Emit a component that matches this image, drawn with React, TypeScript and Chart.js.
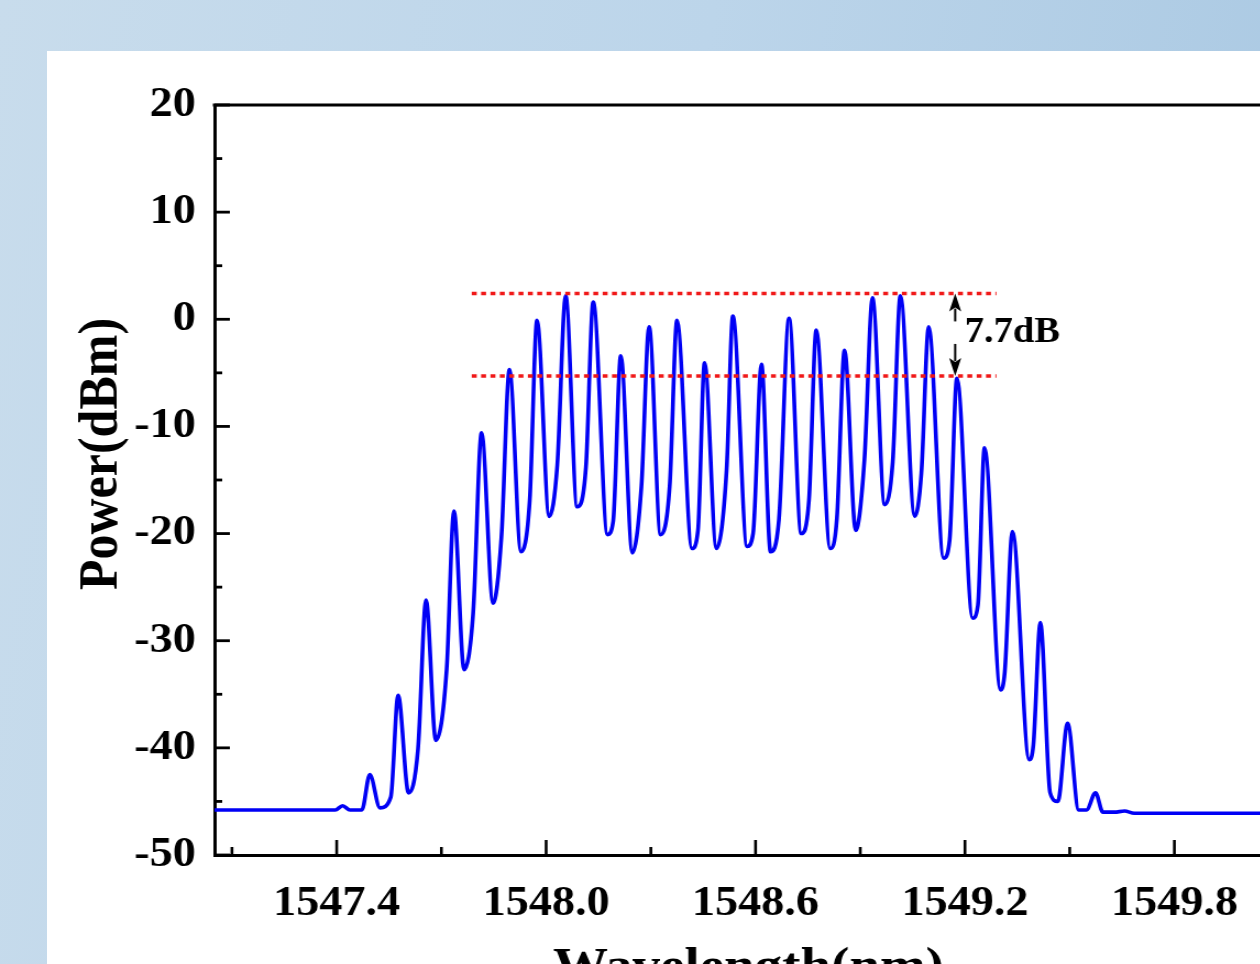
import React, { useEffect, useRef } from "react";
import { Chart, registerables } from "chart.js";

Chart.register(...registerables);

// ---- data ----
const wavelength = [
  1547.05, 1547.29, 1547.396, 1547.417, 1547.438, 1547.472, 1547.495, 1547.524, 1547.555, 1547.576,
  1547.606, 1547.633, 1547.656, 1547.684, 1547.715, 1547.736, 1547.765, 1547.791, 1547.815, 1547.848,
  1547.872, 1547.895, 1547.928, 1547.953, 1547.974, 1548.009, 1548.032, 1548.056, 1548.089, 1548.114,
  1548.135, 1548.176, 1548.192, 1548.214, 1548.247, 1548.273, 1548.295, 1548.328, 1548.354, 1548.375,
  1548.418, 1548.435, 1548.454, 1548.488, 1548.517, 1548.535, 1548.576, 1548.593, 1548.617, 1548.643,
  1548.667, 1548.696, 1548.731, 1548.753, 1548.774, 1548.814, 1548.833, 1548.855, 1548.887, 1548.912,
  1548.935, 1548.97, 1548.993, 1549.015, 1549.056, 1549.075, 1549.096, 1549.139, 1549.156, 1549.177,
  1549.222, 1549.237, 1549.256, 1549.302, 1549.314, 1549.336, 1549.384, 1549.396, 1549.416, 1549.444,
  1549.466, 1549.494, 1549.526, 1549.548, 1549.574, 1549.595, 1549.628, 1549.657, 1549.685, 1550.11,
];
const power = [
  -45.8, -45.8, -45.8, -45.4, -45.8, -45.8, -42.5, -45.6, -44.6, -35.1,
  -44.2, -40.1, -26.2, -39.3, -32.7, -17.9, -32.7, -27.4, -10.6, -26.5,
  -20.3, -4.7, -21.7, -16.9, -0.1, -18.4, -13.6, 2.2, -17.5, -13.8,
  1.6, -20.1, -18.9, -3.4, -21.8, -15.6, -0.7, -20.1, -15.6, -0.1,
  -21.4, -19.7, -4.05, -21.4, -14.1, 0.3, -21.2, -20.0, -4.2, -21.7,
  -18.7, 0.1, -20.0, -16.9, -1.0, -21.4, -18.6, -2.9, -19.7, -13.1,
  2.0, -17.3, -13.3, 2.2, -18.4, -14.4, -0.7, -22.3, -20.6, -5.5,
  -27.9, -26.7, -12.0, -34.6, -32.9, -19.8, -41.1, -39.7, -28.3, -44.2,
  -45.0, -37.7, -45.8, -45.8, -44.2, -46.0, -46.0, -45.9, -46.1, -46.1,
];

const xRange = [1547.05, 1550.11];
const yRange = [-50, 20];
const xMajorTicks = [1547.4, 1548.0, 1548.6, 1549.2, 1549.8];
const xMinorTicks = [1547.1, 1547.7, 1548.3, 1548.9, 1549.5];
const yMajorTicks = [-50, -40, -30, -20, -10, 0, 10, 20];
const yMinorTicks = [-45, -35, -25, -15, -5, 5, 15];

const flatnessLevels = [2.4, -5.3];
const flatnessSpan = [1547.787, 1549.29];
const arrowWavelength = 1549.172;
const upArrow = [-0.2, 2.4];
const downArrow = [-2.3, -5.3];
const flatnessLabel = "7.7dB";
const flatnessLabelPos = [1549.199, -1.28];

const xTitle = "Wavelength(nm)";
const yTitle = "Power(dBm)";

const FAMILY = "'Liberation Serif', 'Times New Roman', serif";
const STRETCH = 1.1; // the reference figure is slightly widened horizontally

function drawArrow(ctx: CanvasRenderingContext2D, x: number, yTail: number, yTip: number) {
  const dir = Math.sign(yTip - yTail);
  const headLen = 18;
  const headHalf = 5.5;
  ctx.beginPath();
  ctx.moveTo(x, yTail);
  ctx.lineTo(x, yTip - dir * (headLen - 3));
  ctx.lineWidth = 2;
  ctx.stroke();
  ctx.beginPath();
  ctx.moveTo(x, yTip);
  ctx.lineTo(x - headHalf, yTip - dir * headLen);
  ctx.lineTo(x, yTip - dir * (headLen - 4));
  ctx.lineTo(x + headHalf, yTip - dir * headLen);
  ctx.closePath();
  ctx.fill();
}

const decorPlugin = {
  id: "decor",
  afterDraw(chart: any) {
    const { ctx, chartArea } = chart;
    const xs = chart.scales.x;
    const ys = chart.scales.y;
    ctx.save();
    ctx.strokeStyle = "#000";
    ctx.fillStyle = "#000";
    ctx.lineCap = "butt";
    ctx.lineWidth = 3;
    // top frame
    ctx.beginPath();
    ctx.moveTo(chartArea.left - 1.5, chartArea.top);
    ctx.lineTo(chartArea.right + 1.5, chartArea.top);
    ctx.stroke();
    // right frame
    ctx.beginPath();
    ctx.moveTo(chartArea.right, chartArea.top);
    ctx.lineTo(chartArea.right, chartArea.bottom);
    ctx.stroke();
    // inward ticks
    const yTick = (v: number, len: number) => {
      const py = ys.getPixelForValue(v);
      ctx.beginPath();
      ctx.moveTo(chartArea.left, py);
      ctx.lineTo(chartArea.left + len, py);
      ctx.stroke();
    };
    const xTick = (v: number, len: number) => {
      const px = xs.getPixelForValue(v);
      ctx.beginPath();
      ctx.moveTo(px, chartArea.bottom);
      ctx.lineTo(px, chartArea.bottom - len);
      ctx.stroke();
    };
    ctx.lineWidth = 2.8;
    yMajorTicks.forEach((v) => yTick(v, 14));
    yMinorTicks.forEach((v) => yTick(v, 7));
    ctx.lineWidth = 2.6;
    xMajorTicks.forEach((v) => xTick(v, 15));
    xMinorTicks.forEach((v) => xTick(v, 8));

    // arrows
    const ax = xs.getPixelForValue(arrowWavelength);
    drawArrow(ctx, ax, ys.getPixelForValue(upArrow[0]), ys.getPixelForValue(upArrow[1]));
    drawArrow(ctx, ax, ys.getPixelForValue(downArrow[0]), ys.getPixelForValue(downArrow[1]));

    // label
    ctx.font = `bold 35px ${FAMILY}`;
    ctx.textAlign = "left";
    ctx.textBaseline = "middle";
    ctx.fillText(
      flatnessLabel,
      xs.getPixelForValue(flatnessLabelPos[0]),
      ys.getPixelForValue(flatnessLabelPos[1])
    );

    // y title
    ctx.save();
    ctx.translate(chartArea.left - 102, (chartArea.top + chartArea.bottom) / 2 - 26);
    ctx.rotate(-Math.PI / 2);
    ctx.font = `bold 50px ${FAMILY}`;
    ctx.textAlign = "center";
    ctx.textBaseline = "middle";
    ctx.fillText(yTitle, 0, 0);
    ctx.restore();

    ctx.restore();
  },
};

export default function App() {
  const ref = useRef<HTMLCanvasElement>(null);

  useEffect(() => {
    const canvas = ref.current;
    if (!canvas) return;
    const spectrum = wavelength.map((w, i) => ({ x: w, y: power[i] }));
    const levelSets = flatnessLevels.map((lv) => ({
      data: flatnessSpan.map((w) => ({ x: w, y: lv })),
      borderColor: "#f01818",
      borderWidth: 3.5,
      borderDash: [4.5, 4],
      pointRadius: 0,
      tension: 0,
      fill: false,
    }));
    const chart = new Chart(canvas, {
      type: "line",
      data: {
        datasets: [
          ...levelSets,
          {
            data: spectrum,
            borderColor: "#0000f5",
            borderWidth: 3.6,
            pointRadius: 0,
            cubicInterpolationMode: "monotone",
            fill: false,
          },
        ],
      } as any,
      options: {
        animation: false,
        responsive: false,
        devicePixelRatio: 1,
        layout: { padding: { left: 0, top: 105, right: 74, bottom: 0 } },
        plugins: {
          legend: { display: false },
          tooltip: { enabled: false },
          title: { display: false },
        },
        scales: {
          x: {
            type: "linear",
            min: xRange[0],
            max: xRange[1],
            afterFit: (s: any) => {
              s.height = 145;
            },
            afterBuildTicks: (s: any) => {
              s.ticks = xMajorTicks.map((v) => ({ value: v }));
            },
            grid: { display: false, drawTicks: false },
            border: { display: true, color: "#000", width: 3 },
            ticks: {
              padding: 24,
              color: "#000",
              autoSkip: false,
              maxRotation: 0,
              font: { family: FAMILY, size: 42, weight: "bold" },
              callback: (v: any) => Number(v).toFixed(1),
            },
            title: {
              display: true,
              text: xTitle,
              color: "#000",
              font: { family: FAMILY, size: 50, weight: "bold" },
              padding: { top: 0, bottom: 1 },
            },
          },
          y: {
            type: "linear",
            min: yRange[0],
            max: yRange[1],
            afterFit: (s: any) => {
              s.width = 195;
            },
            afterBuildTicks: (s: any) => {
              s.ticks = yMajorTicks.map((v) => ({ value: v }));
            },
            grid: { display: false, drawTicks: false },
            border: { display: true, color: "#000", width: 3 },
            ticks: {
              padding: 17,
              color: "#000",
              autoSkip: false,
              font: { family: FAMILY, size: 42, weight: "bold" },
              callback: (v: any) => String(v),
            },
          },
        },
      } as any,
      plugins: [decorPlugin],
    });
    return () => chart.destroy();
  }, []);

  return (
    <div
      style={{
        position: "fixed",
        left: 0,
        top: 0,
        width: 1260,
        height: 964,
        overflow: "hidden",
        background: "linear-gradient(100deg, #c8dcec 0%, #bcd5ea 50%, #a9c8e2 100%)",
      }}
    >
      <div
        style={{
          position: "absolute",
          left: 47,
          top: 51,
          right: 0,
          bottom: 0,
          background: "#ffffff",
        }}
      />
      <div
        style={{
          position: "absolute",
          left: 0,
          top: 0,
          width: 1240,
          height: 1000,
          transform: `scaleX(${STRETCH})`,
          transformOrigin: "0 0",
        }}
      >
        <canvas
          ref={ref}
          width={1240}
          height={1000}
          style={{ display: "block", width: 1240, height: 1000 }}
        />
      </div>
    </div>
  );
}
